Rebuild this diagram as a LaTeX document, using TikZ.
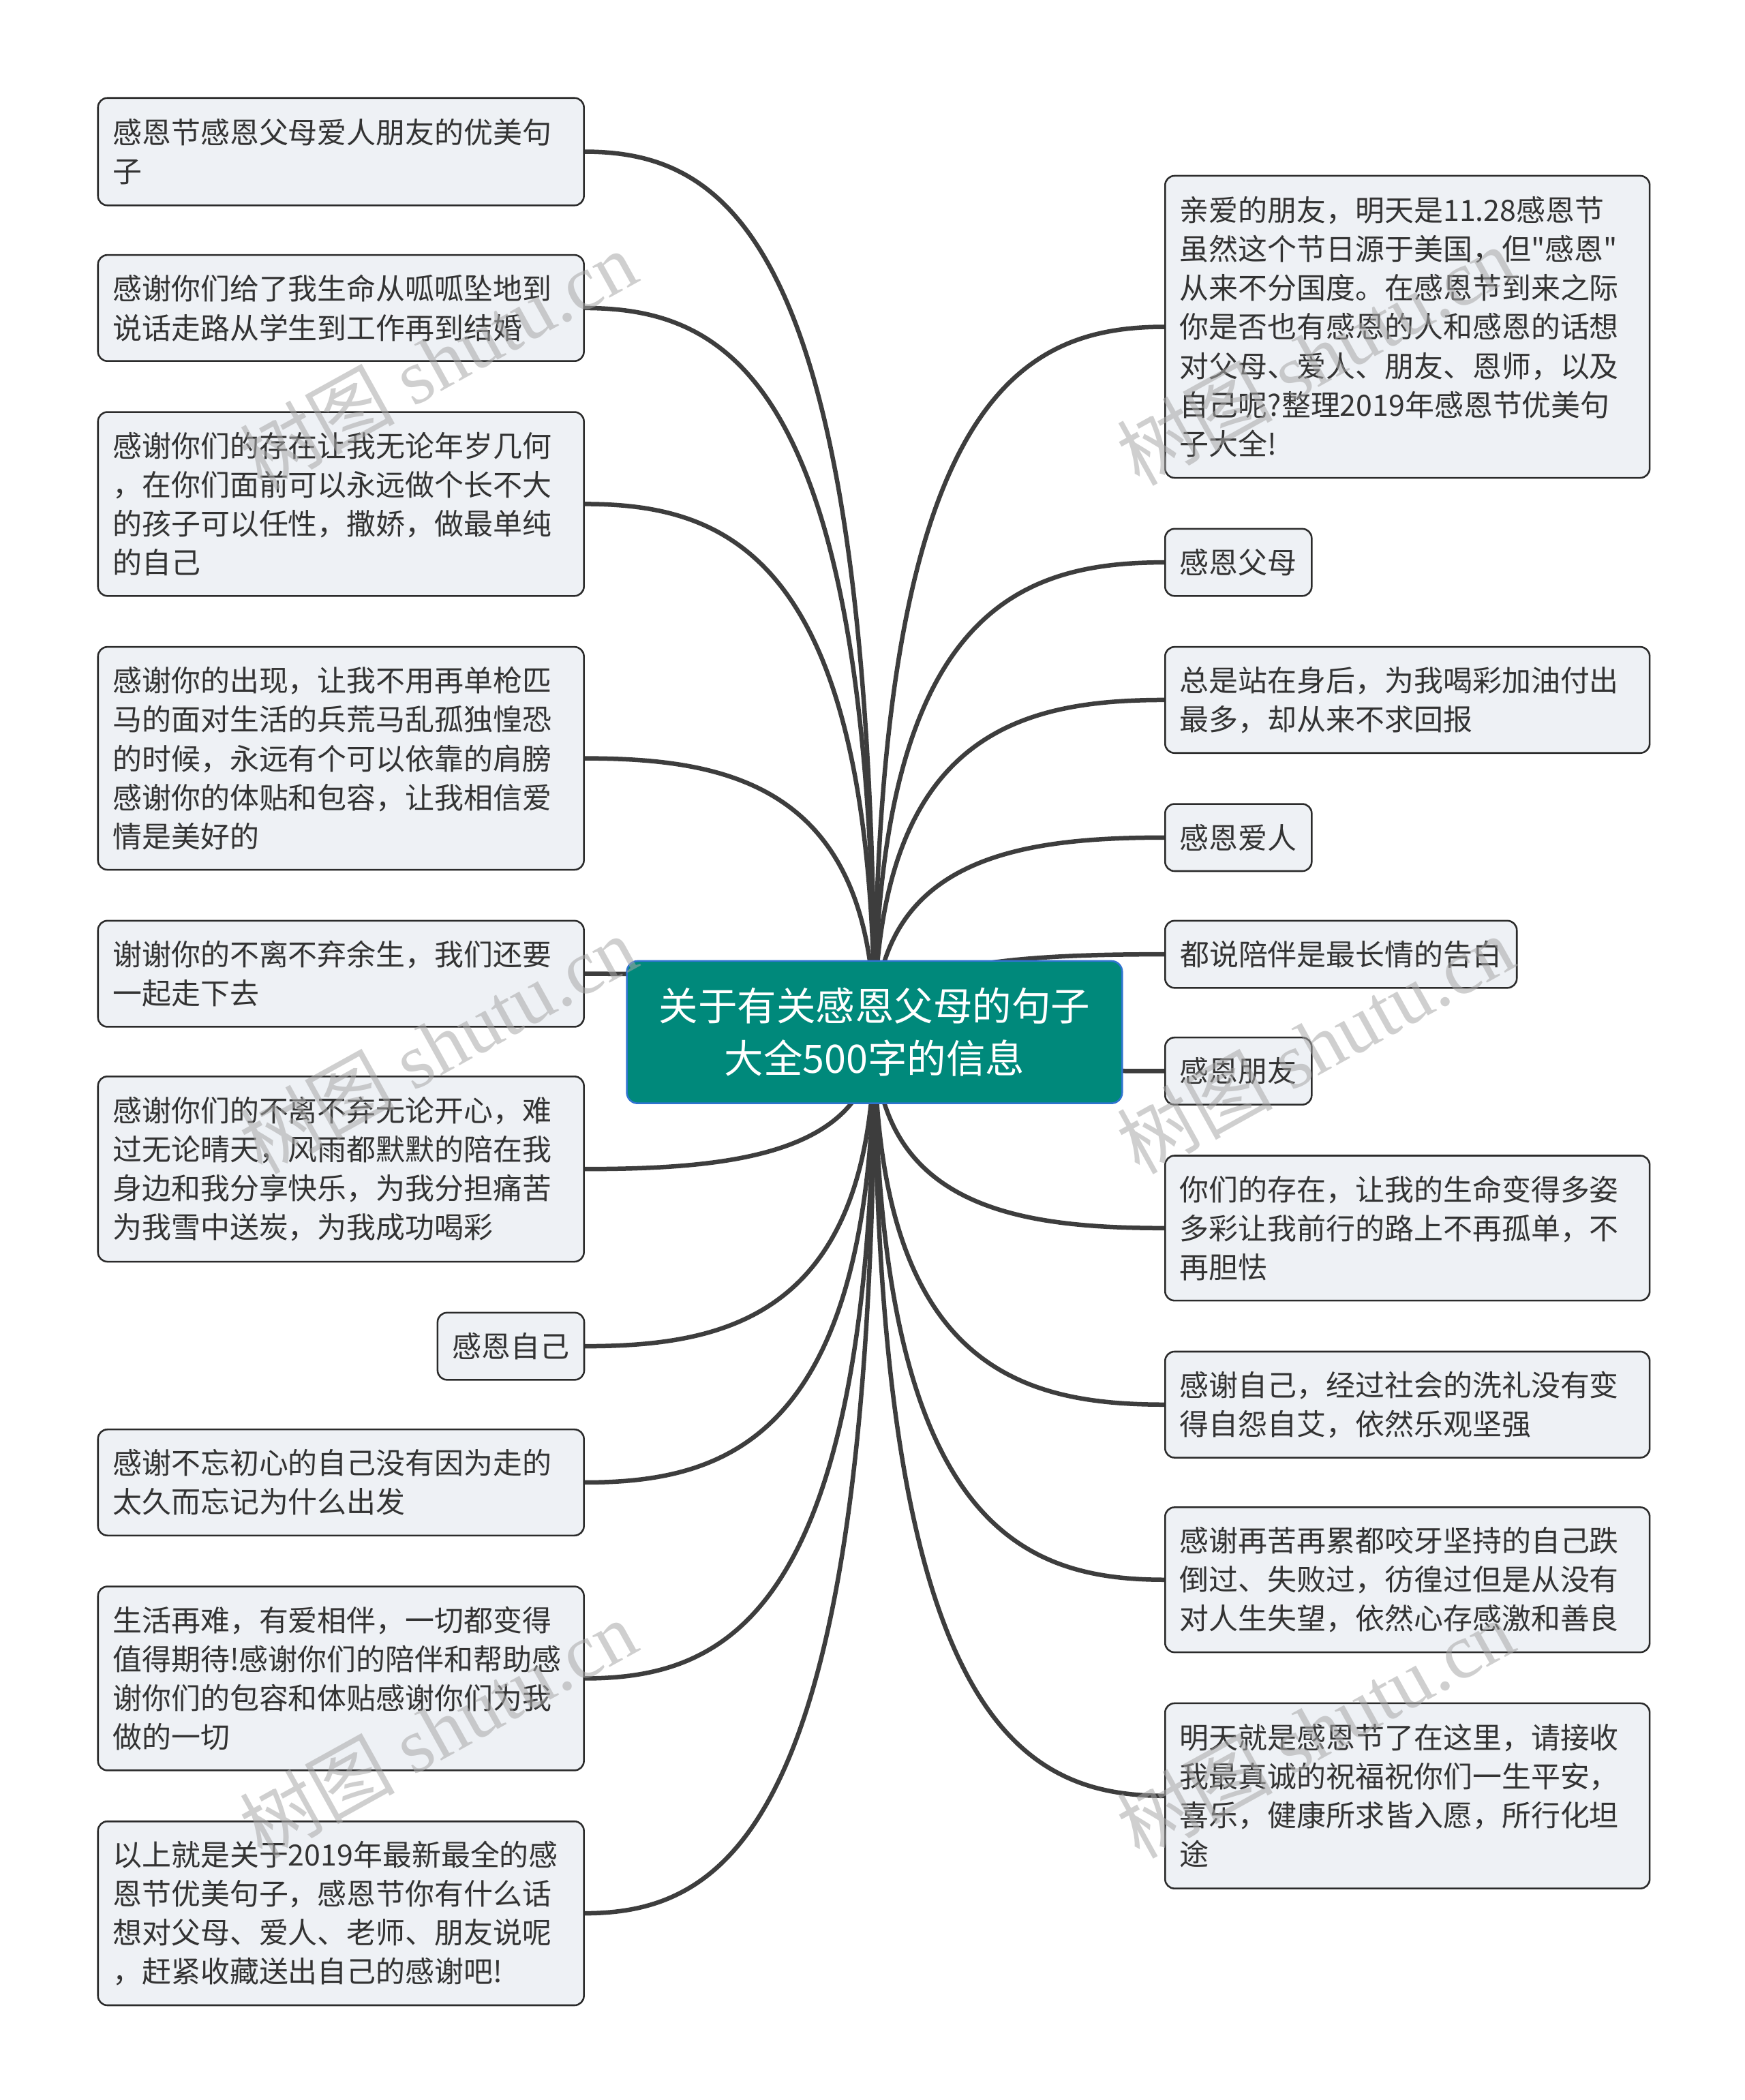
\documentclass[tikz,border=0pt]{standalone}
\usepackage{fontspec}
\setmainfont{Noto Sans CJK SC}
\newfontfamily\cjk{Noto Sans CJK SC}
\newfontfamily\wmlatin{Liberation Serif}
\usetikzlibrary{calc}
\definecolor{boxfill}{HTML}{EEF1F5}
\definecolor{boxline}{HTML}{2B2B2B}
\definecolor{txt}{HTML}{333333}
\definecolor{conncol}{HTML}{3D3D3D}
\definecolor{rootfill}{HTML}{00897B}
\definecolor{rootline}{HTML}{2F74D0}
\definecolor{wmcol}{HTML}{A8A8A8}
\pgfdeclarelayer{bg}\pgfdeclarelayer{fg}
\pgfsetlayers{bg,main,fg}
\tikzset{
  leaf/.style={draw=boxline, line width=1.3pt, fill=boxfill, rounded corners=7pt,
    text=txt, align=left, inner xsep=11pt, inner ysep=0pt, outer sep=0pt,
    anchor=north west, font=\cjk\fontsize{21.8pt}{29pt}\selectfont},
  tag/.style={leaf, align=center},
  rootbox/.style={draw=rootline, line width=1.3pt, fill=rootfill, rounded corners=8pt,
    text=white, align=center, inner sep=0pt, outer sep=0pt, anchor=north west,
    minimum width=369pt, minimum height=106pt, font=\cjk\fontsize{29.2pt}{39pt}\selectfont},
  conn/.style={draw=conncol, line width=3.3pt, line cap=round},
  wmark/.style={text=wmcol, opacity=0.55, rotate=29, inner sep=0pt,
    font=\cjk\fontsize{58pt}{60pt}\selectfont}
}
% #1 name, #2 x, #3 y, #4 text width, #5 height, #6 text
\newcommand{\leafbox}[6]{\node[leaf, text width=#4pt, minimum height=#5pt] (#1) at (#2,#3) {#6};}
% #1 name, #2 x, #3 y, #4 width, #5 text
\newcommand{\tagbox}[5]{\node[tag, minimum width=#4pt, minimum height=50pt] (#1) at (#2,#3) {#5};}
% #1 start, #2 target
\newcommand{\link}[2]{\draw[conn] (#1) .. controls ($(#1|-#2)!0.1!(#1)$) and ($(#2)!0.5!(#1|-#2)$) .. (#2);}
\newcommand{\wm}[2]{\node[wmark] at (#1,#2) {树图 {\wmlatin shutu.cn}};}
\begin{document}
\begin{tikzpicture}[x=1pt,y=-1pt]
\useasboundingbox (0,0) rectangle (1300,1564.6);

\node[rootbox] (root) at (467,716) {关于有关感恩父母的句子\\大全500字的信息};

% left column
\leafbox{l1}{73}{73}{340}{80}{感恩节感恩父母爱人朋友的优美句\\子}
\leafbox{l2}{73}{190}{340}{79}{感谢你们给了我生命从呱呱坠地到\\说话走路从学生到工作再到结婚}
\leafbox{l3}{73}{307}{340}{137}{感谢你们的存在让我无论年岁几何\\，在你们面前可以永远做个长不大\\的孩子可以任性，撒娇，做最单纯\\的自己}
\leafbox{l4}{73}{482}{340}{166}{感谢你的出现，让我不用再单枪匹\\马的面对生活的兵荒马乱孤独惶恐\\的时候，永远有个可以依靠的肩膀\\感谢你的体贴和包容，让我相信爱\\情是美好的}
\leafbox{l5}{73}{686}{340}{79}{谢谢你的不离不弃余生，我们还要\\一起走下去}
\leafbox{l6}{73}{802}{340}{138}{感谢你们的不离不弃无论开心，难\\过无论晴天，风雨都默默的陪在我\\身边和我分享快乐，为我分担痛苦\\为我雪中送炭，为我成功喝彩}
\tagbox{l7}{326}{978}{109}{感恩自己}
\leafbox{l8}{73}{1065}{340}{79}{感谢不忘初心的自己没有因为走的\\太久而忘记为什么出发}
\leafbox{l9}{73}{1182}{340}{137}{生活再难，有爱相伴，一切都变得\\值得期待!感谢你们的陪伴和帮助感\\谢你们的包容和体贴感谢你们为我\\做的一切}
\leafbox{l10}{73}{1357}{340}{137}{以上就是关于2019年最新最全的感\\恩节优美句子，感恩节你有什么话\\想对父母、爱人、老师、朋友说呢\\，赶紧收藏送出自己的感谢吧!}

% right column
\leafbox{r1}{868}{131}{339}{225}{亲爱的朋友，明天是11.28感恩节\\虽然这个节日源于美国，但"感恩"\\从来不分国度。在感恩节到来之际\\你是否也有感恩的人和感恩的话想\\对父母、爱人、朋友、恩师，以及\\自己呢?整理2019年感恩节优美句\\子大全!}
\tagbox{r2}{868}{394}{108}{感恩父母}
\leafbox{r3}{868}{482}{339}{79}{总是站在身后，为我喝彩加油付出\\最多，却从来不求回报}
\tagbox{r4}{868}{599}{108}{感恩爱人}
\tagbox{r5}{868}{686}{262}{都说陪伴是最长情的告白}
\tagbox{r6}{868}{773}{108}{感恩朋友}
\leafbox{r7}{868}{861}{339}{108}{你们的存在，让我的生命变得多姿\\多彩让我前行的路上不再孤单，不\\再胆怯}
\leafbox{r8}{868}{1007}{339}{79}{感谢自己，经过社会的洗礼没有变\\得自怨自艾，依然乐观坚强}
\leafbox{r9}{868}{1123}{339}{108}{感谢再苦再累都咬牙坚持的自己跌\\倒过、失败过，彷徨过但是从没有\\对人生失望，依然心存感激和善良}
\leafbox{r10}{868}{1269}{339}{138}{明天就是感恩节了在这里，请接收\\我最真诚的祝福祝你们一生平安，\\喜乐，健康所求皆入愿，所行化坦\\途}

\begin{pgfonlayer}{bg}
\fill[white] (0,0) rectangle (1300,1564.6);
\foreach \t in {l1,l2,l3,l4,l5,l6,l7,l8,l9,l10}{\link{root.center}{\t.east}}
\foreach \t in {r1,r2,r3,r4,r5,r6,r7,r8,r9,r10}{\link{root.center}{\t.west}}
\end{pgfonlayer}

\begin{pgfonlayer}{fg}
\wm{326}{268}
\wm{326}{778}
\wm{326}{1288}
\wm{980}{265}
\wm{980}{778}
\wm{980}{1288}
\end{pgfonlayer}
\end{tikzpicture}
\end{document}
